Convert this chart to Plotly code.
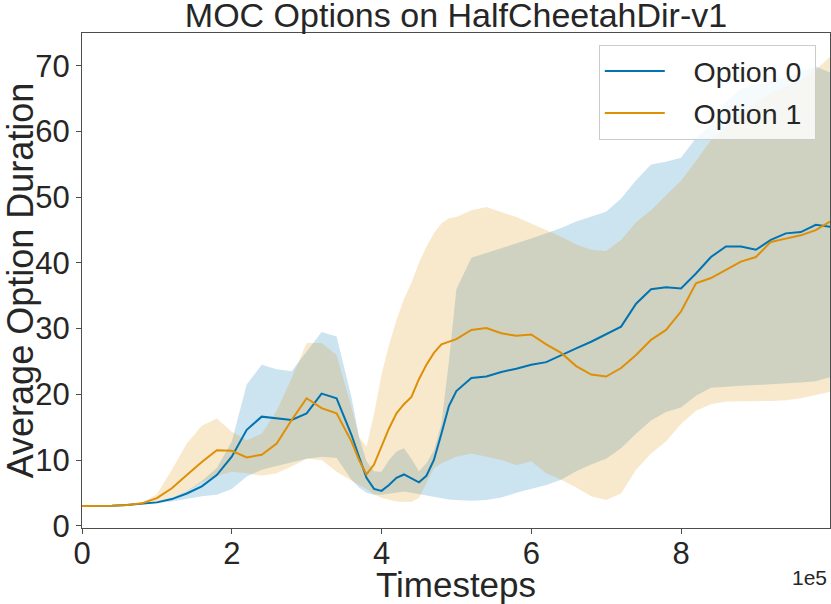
import plotly.graph_objects as go

# Timesteps in units of 1e5
X = [0, 0.2, 0.4, 0.6, 0.8, 1.0, 1.2, 1.4, 1.6, 1.8, 2.0, 2.2, 2.4, 2.6, 2.8, 3.0, 3.2, 3.4, 3.6,
     3.7, 3.8, 3.9, 4.0, 4.1, 4.2, 4.3, 4.4, 4.5, 4.6, 4.7, 4.8, 4.9, 5.0,
     5.2, 5.4, 5.6, 5.8, 6.0, 6.2, 6.4, 6.6, 6.8, 7.0, 7.2, 7.4, 7.6, 7.8, 8.0, 8.2, 8.4, 8.6, 8.8,
     9.0, 9.2, 9.4, 9.6, 9.8, 9.99]

# Option 0: mean, upper, lower
opt0_mean = [3.0, 3.0, 3.05, 3.15, 3.3, 3.55, 4.05, 4.9, 6.0, 7.7, 10.5, 14.6, 16.6, 16.3, 16.1, 17.1, 20.1, 19.4, 13.8,
             10.5, 7.3, 5.6, 5.3, 6.2, 7.3, 7.8, 7.2, 6.6, 7.6, 10.0, 14.0, 18.2, 20.5,
             22.5, 22.7, 23.4, 23.9, 24.5, 24.9, 26.0, 27.0, 28.0, 29.1, 30.3, 33.8, 36.0, 36.3, 36.1, 38.4, 40.9, 42.5, 42.5,
             42.0, 43.5, 44.5, 44.7, 45.8, 45.5]
opt0_upper = [3.05, 3.05, 3.1, 3.2, 3.4, 3.7, 4.3, 5.3, 6.8, 8.8, 12.8, 21.5, 24.5, 23.8, 23.5, 26.5, 29.5, 28.8, 19.5,
              13.5, 9.8, 8.3, 8.2, 10.0, 11.3, 11.8, 10.2, 8.3, 9.5, 11.5, 15.5, 25.0, 36.0,
              40.8, 41.5, 42.2, 43.0, 43.7, 44.5, 45.3, 46.3, 47.0, 47.8, 49.8, 52.6, 55.0, 55.4, 56.0, 59.0, 61.0, 64.5, 66.5,
              67.1, 67.6, 68.3, 69.1, 69.9, 69.0]
opt0_lower = [2.95, 2.95, 3.0, 3.1, 3.2, 3.4, 3.7, 4.1, 4.5, 4.7, 5.6, 7.5, 8.5, 9.1, 9.7, 10.2, 10.5, 10.3, 7.0,
              5.8, 5.0, 4.7, 4.7, 4.9, 5.0, 5.2, 5.0, 4.8, 4.5, 4.3, 4.2, 4.0, 3.9,
              3.8, 3.9, 4.3, 5.0, 5.6, 6.2, 7.0, 8.3, 9.3, 10.2, 11.8, 14.0, 16.0, 17.3, 18.0, 19.8, 21.0, 21.2, 21.3,
              21.4, 21.5, 21.6, 21.8, 22.0, 22.6]

# Option 1: mean, upper, lower
opt1_mean = [3.0, 3.0, 3.05, 3.15, 3.4, 4.2, 5.7, 7.7, 9.7, 11.5, 11.4, 10.4, 10.8, 12.5, 16.1, 19.4, 17.9, 17.1, 12.8,
             10.0, 7.8, 9.3, 12.0, 14.8, 17.1, 18.5, 19.6, 22.3, 24.5, 26.3, 27.6, 28.0, 28.4,
             29.8, 30.1, 29.3, 28.9, 29.1, 27.6, 26.3, 24.3, 23.0, 22.7, 24.0, 26.0, 28.3, 29.8, 32.6, 36.9, 37.7, 38.9, 40.2,
             40.9, 43.2, 43.7, 44.2, 45.0, 46.3]
opt1_upper = [3.0, 3.05, 3.1, 3.2, 3.5, 4.8, 8.5, 12.5, 15.2, 16.3, 14.3, 13.0, 14.0, 17.5, 22.5, 27.8, 27.8, 26.0, 18.0,
              13.5, 12.0, 17.0, 23.0, 27.5, 31.3, 34.5, 37.0, 40.0, 42.5, 44.5, 46.0, 46.8, 47.0,
              48.0, 48.5, 47.8, 47.0, 46.0, 45.0, 44.0, 42.8, 42.0, 41.8, 43.5, 46.2, 48.0, 50.3, 52.5, 55.5, 58.7, 60.7, 62.8,
              64.3, 65.8, 66.8, 67.8, 69.4, 71.4]
opt1_lower = [2.95, 2.95, 3.0, 3.1, 3.25, 3.6, 4.3, 5.2, 6.6, 7.6, 8.2, 8.0, 7.6, 8.0, 9.0, 10.2, 10.0, 8.2, 6.8,
              6.2, 5.6, 4.8, 4.2, 3.9, 3.7, 3.6, 3.6, 4.2, 6.5, 8.8, 9.5, 10.0, 10.5,
              11.0, 10.5, 10.0, 9.2, 9.8, 8.0, 7.0, 5.8, 4.5, 3.9, 4.9, 8.5, 11.0, 12.8, 15.5, 17.5, 18.5, 18.9, 18.9,
              18.9, 19.0, 19.1, 19.4, 19.9, 20.4]

labels = ["Option 0", "Option 1"]
X_TICKS = [0, 2, 4, 6, 8]
Y_TICKS = [0, 10, 20, 30, 40, 50, 60, 70]

colors = ["#0173b2", "#de8f05"]
fills = ["rgba(1,115,178,0.2)", "rgba(222,143,5,0.2)"]
FONT = "Liberation Sans, Arial, sans-serif"
TXT = "#262626"
NB = "\u00a0"

fig = go.Figure()
series = [(opt0_mean, opt0_upper, opt0_lower), (opt1_mean, opt1_upper, opt1_lower)]

for i, (m, u, l) in enumerate(series):
    fig.add_trace(go.Scatter(x=X, y=u, mode="lines", line=dict(width=0), showlegend=False, hoverinfo="skip"))
    fig.add_trace(go.Scatter(x=X, y=l, mode="lines", line=dict(width=0), fill="tonexty",
                             fillcolor=fills[i], showlegend=False, hoverinfo="skip"))

for i, (m, u, l) in enumerate(series):
    fig.add_trace(go.Scatter(x=X, y=m, mode="lines", name=NB * 3 + labels[i] + NB, legendgroup=labels[i],
                             line=dict(color=colors[i], width=2)))

fig.update_layout(
    width=831, height=604,
    margin=dict(l=82, r=1, t=33, b=76),
    paper_bgcolor="white", plot_bgcolor="white",
    font=dict(family=FONT, color=TXT),
    title=dict(text="MOC Options on HalfCheetahDir-v1", font=dict(size=34, color=TXT, family=FONT),
               x=0.5, xref="paper", xanchor="center", y=1, yref="paper", yanchor="bottom", pad=dict(b=6)),
    legend=dict(x=0.981, xanchor="right", y=0.9758, yanchor="top",
                bgcolor="rgba(255,255,255,0.8)", bordercolor="#cccccc", borderwidth=1,
                font=dict(size=28.5, color=TXT, family=FONT), tracegroupgap=2, itemwidth=60),
    annotations=[dict(text="1e5", x=0.999, xref="paper", xanchor="right", y=-0.099, yref="paper",
                      yanchor="middle", showarrow=False, font=dict(size=21, color=TXT, family=FONT))],
)

axis_common = dict(showgrid=False, zeroline=False, showline=True, linecolor="#4d4d4d", linewidth=1.2,
                   mirror=True, ticks="outside", ticklen=5, tickwidth=1.2, tickcolor="#4d4d4d",
                   tickfont=dict(size=31, color=TXT, family=FONT), automargin=False)

fig.update_xaxes(range=[0, 9.99], tickvals=X_TICKS, ticktext=[str(t) for t in X_TICKS], ticklabelstandoff=-7,
                 title=dict(text="Timesteps", font=dict(size=35, color=TXT, family=FONT), standoff=0),
                 **axis_common)
fig.update_yaxes(range=[-0.35, 75], tickvals=Y_TICKS, ticktext=[str(t) for t in Y_TICKS],
                 title=dict(text="Average Option Duration", font=dict(size=36, color=TXT, family=FONT), standoff=27),
                 **axis_common)

# remove the default 8px page margin so the figure sits at the window's top-left corner
fig.write_html("out.html", config={"displayModeBar": False},
               post_script="document.body.style.margin='0px';")
